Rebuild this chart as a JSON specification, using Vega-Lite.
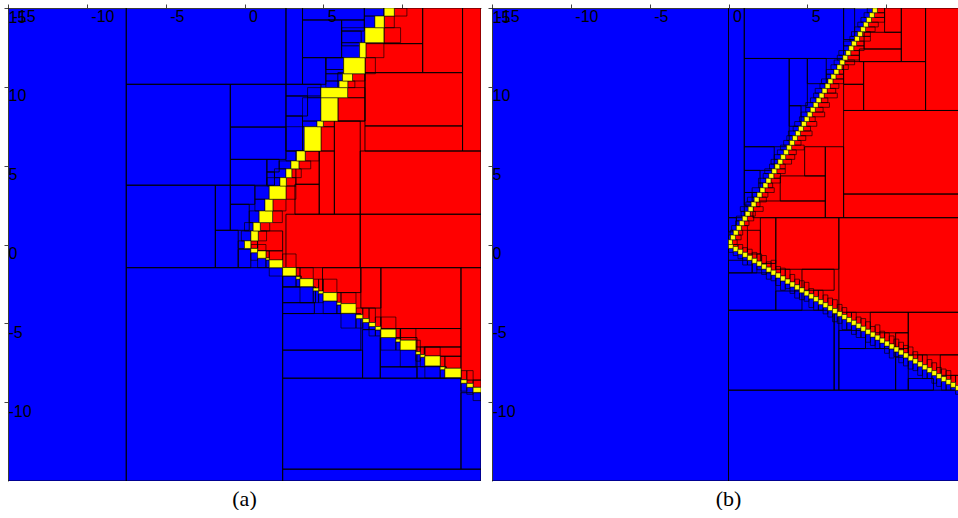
{
"$schema": "https://vega.github.io/schema/vega-lite/v6.json",
"padding": {"left": 3, "top": 3, "right": 0, "bottom": 0},
"spacing": 6,
"config": {
 "view": {"stroke": null, "fill": "#0000ff"},
 "axis": {"labelFont": "Liberation Sans", "labelFontSize": 16, "labelColor": "#000", "tickColor": "#444", "tickSize": 4, "domainColor": "#666", "grid": false, "labelFlush": false, "labelOverlap": false, "zindex": 1, "labelExpr": "'' + datum.value"},
 "title": {"font": "Liberation Serif", "fontSize": 22, "fontWeight": "normal", "color": "#000", "orient": "bottom", "anchor": "middle", "offset": 8, "baseline": "top"}
},
"datasets": {
"au": [
{"y":-0.25,"y2":0.23,"xo":-0.4,"xa":0.0,"xb":0.4,"xi":0.83,"xe":15,"ys":-0.2},
{"y":0.23,"y2":0.86,"xo":-0.2,"xa":0.41,"xb":0.87,"xi":1.4,"xe":15,"ys":-0.2},
{"y":0.86,"y2":1.39,"xo":0.0,"xa":0.55,"xb":1.0,"xi":1.6,"xe":15,"ys":-0.2},
{"y":1.39,"y2":2.13,"xo":0.3,"xa":0.93,"xb":1.78,"xi":2.4,"xe":15,"ys":-0.2},
{"y":2.13,"y2":2.87,"xo":0.66,"xa":1.3,"xb":1.8,"xi":2.63,"xe":15,"ys":-0.2},
{"y":2.87,"y2":3.71,"xo":0.66,"xa":1.57,"xb":2.63,"xi":3.26,"xe":15,"ys":-0.2},
{"y":3.71,"y2":4.24,"xo":1.42,"xa":2.25,"xb":2.65,"xi":3.26,"xe":15,"ys":-0.2},
{"y":4.24,"y2":4.8,"xo":1.9,"xa":2.63,"xb":3.0,"xi":3.6,"xe":15,"ys":-0.2},
{"y":4.8,"y2":5.3,"xo":2.2,"xa":2.95,"xb":3.45,"xi":4.2,"xe":15,"ys":-0.2},
{"y":5.3,"y2":5.93,"xo":2.63,"xa":3.3,"xb":3.85,"xi":4.74,"xe":15,"ys":-0.2},
{"y":5.93,"y2":7.47,"xo":2.63,"xa":3.79,"xb":4.85,"xi":5.7,"xe":15,"ys":-0.2},
{"y":7.47,"y2":7.83,"xo":3.68,"xa":4.6,"xb":5.0,"xi":5.7,"xe":15,"ys":-0.2},
{"y":7.83,"y2":9.31,"xo":3.68,"xa":4.85,"xb":5.92,"xi":7.64,"xe":15,"ys":-0.2},
{"y":9.31,"y2":9.95,"xo":4.0,"xa":4.85,"xb":6.54,"xi":7.64,"xe":15,"ys":-0.2},
{"y":9.95,"y2":10.37,"xo":5.16,"xa":6.0,"xb":6.55,"xi":7.0,"xe":15,"ys":-0.2},
{"y":10.37,"y2":10.83,"xo":5.16,"xa":6.22,"xb":6.85,"xi":7.64,"xe":15,"ys":-0.2},
{"y":10.83,"y2":11.85,"xo":5.16,"xa":6.29,"xb":7.64,"xi":8.3,"xe":15,"ys":-0.2},
{"y":11.85,"y2":12.8,"xo":6.16,"xa":7.3,"xb":7.7,"xi":8.84,"xe":15,"ys":-0.2},
{"y":12.8,"y2":13.75,"xo":6.16,"xa":7.64,"xb":8.84,"xi":9.9,"xe":15,"ys":-0.2},
{"y":13.75,"y2":14.49,"xo":7.6,"xa":8.27,"xb":8.86,"xi":9.5,"xe":15,"ys":-0.2},
{"y":14.49,"y2":15,"xo":7.6,"xa":8.86,"xb":9.5,"xi":10.3,"xe":15,"ys":-0.2}
],
"al": [
{"x":0.4,"x2":0.83,"yo":-1.0,"ya":-0.52,"yb":-0.25,"yi":0.0,"xe":15,"ye":0},
{"x":0.83,"x2":1.36,"yo":-1.47,"ya":-0.87,"yb":-0.41,"yi":0.0,"xe":15,"ye":0},
{"x":1.36,"x2":1.57,"yo":-1.47,"ya":-0.98,"yb":-0.85,"yi":-0.4,"xe":15,"ye":0},
{"x":1.57,"x2":2.42,"yo":-2.0,"ya":-1.47,"yb":-0.98,"yi":-0.4,"xe":15,"ye":0},
{"x":2.42,"x2":3.27,"yo":-2.69,"ya":-1.99,"yb":-1.46,"yi":-0.6,"xe":15,"ye":0},
{"x":3.27,"x2":3.52,"yo":-2.69,"ya":-2.2,"yb":-2.04,"yi":-1.47,"xe":15,"ye":0},
{"x":3.52,"x2":4.36,"yo":-3.69,"ya":-2.67,"yb":-2.17,"yi":-1.47,"xe":15,"ye":0},
{"x":4.36,"x2":4.7,"yo":-3.69,"ya":-2.94,"yb":-2.76,"yi":-2.2,"xe":15,"ye":0},
{"x":4.7,"x2":4.99,"yo":-3.69,"ya":-3.12,"yb":-2.95,"yi":-2.2,"xe":15,"ye":0},
{"x":4.99,"x2":5.86,"yo":-4.38,"ya":-3.58,"yb":-3.05,"yi":-2.2,"xe":15,"ye":0},
{"x":5.86,"x2":6.12,"yo":-4.38,"ya":-3.83,"yb":-3.67,"yi":-3.05,"xe":15,"ye":0},
{"x":6.12,"x2":7.07,"yo":-5.3,"ya":-4.36,"yb":-3.75,"yi":-3.05,"xe":15,"ye":0},
{"x":7.07,"x2":7.5,"yo":-5.3,"ya":-4.7,"yb":-4.45,"yi":-4.03,"xe":15,"ye":0},
{"x":7.5,"x2":7.9,"yo":-5.4,"ya":-4.95,"yb":-4.7,"yi":-4.03,"xe":15,"ye":0},
{"x":7.9,"x2":8.3,"yo":-5.8,"ya":-5.2,"yb":-4.95,"yi":-4.03,"xe":15,"ye":0},
{"x":8.3,"x2":8.65,"yo":-5.8,"ya":-5.42,"yb":-5.2,"yi":-4.6,"xe":15,"ye":0},
{"x":8.65,"x2":9.6,"yo":-6.7,"ya":-5.9,"yb":-5.37,"yi":-4.6,"xe":15,"ye":0},
{"x":9.6,"x2":9.88,"yo":-6.7,"ya":-6.18,"yb":-6.0,"yi":-5.33,"xe":15,"ye":0},
{"x":9.88,"x2":10.87,"yo":-7.76,"ya":-6.69,"yb":-6.07,"yi":-5.33,"xe":15,"ye":0},
{"x":10.87,"x2":11.15,"yo":-7.4,"ya":-6.97,"yb":-6.8,"yi":-6.07,"xe":15,"ye":0},
{"x":11.15,"x2":11.44,"yo":-7.76,"ya":-7.15,"yb":-6.98,"yi":-6.5,"xe":15,"ye":0},
{"x":11.44,"x2":12.41,"yo":-8.48,"ya":-7.7,"yb":-7.07,"yi":-6.5,"xe":15,"ye":0},
{"x":12.41,"x2":12.71,"yo":-8.48,"ya":-7.94,"yb":-7.76,"yi":-7.07,"xe":15,"ye":0},
{"x":12.71,"x2":13.73,"yo":-8.48,"ya":-8.44,"yb":-7.85,"yi":-7.07,"xe":15,"ye":0},
{"x":13.73,"x2":14.1,"yo":-9.3,"ya":-8.8,"yb":-8.58,"yi":-8.0,"xe":15,"ye":0},
{"x":14.1,"x2":14.5,"yo":-9.5,"ya":-9.06,"yb":-8.81,"yi":-8.0,"xe":15,"ye":0},
{"x":14.5,"x2":15,"yo":-9.9,"ya":-9.38,"yb":-9.06,"yi":-8.6,"xe":15,"ye":0}
],
"ab": [
{"x":-15,"x2":-7.5,"y":-15,"y2":15},
{"x":-7.5,"x2":2.42,"y":-15,"y2":-1.47},
{"x":-7.5,"x2":-1.85,"y":-1.47,"y2":3.76},
{"x":-7.5,"x2":2.63,"y":10.16,"y2":15},
{"x":-7.5,"x2":-0.9,"y":3.76,"y2":10.16},
{"x":-0.9,"x2":2.63,"y":7.45,"y2":10.16},
{"x":-0.9,"x2":2.63,"y":5.4,"y2":7.45},
{"x":-0.9,"x2":1.42,"y":3.76,"y2":5.4},
{"x":1.42,"x2":2.2,"y":4.6,"y2":5.4},
{"x":1.42,"x2":1.9,"y":3.76,"y2":4.6},
{"x":-1.85,"x2":-0.9,"y":0.9,"y2":3.76},
{"x":-0.9,"x2":0.66,"y":2.55,"y2":3.76},
{"x":-0.9,"x2":0.3,"y":0.9,"y2":2.55},
{"x":-1.85,"x2":-0.4,"y":-1.47,"y2":0.9},
{"x":-0.4,"x2":0.4,"y":-1.47,"y2":-0.3},
{"x":2.63,"x2":3.68,"y":10.16,"y2":15},
{"x":3.68,"x2":7.6,"y":14.24,"y2":15},
{"x":3.68,"x2":6.16,"y":11.85,"y2":14.24},
{"x":6.16,"x2":7.6,"y":13.54,"y2":14.24},
{"x":6.16,"x2":7.4,"y":12.6,"y2":13.54},
{"x":3.68,"x2":5.16,"y":10.16,"y2":11.85},
{"x":5.16,"x2":6.3,"y":11.1,"y2":11.85},
{"x":2.63,"x2":4.85,"y":9.42,"y2":10.16},
{"x":2.63,"x2":4.0,"y":8.15,"y2":9.42},
{"x":2.63,"x2":3.68,"y":5.93,"y2":8.15},
{"x":2.42,"x2":15,"y":-15,"y2":-14.25},
{"x":2.42,"x2":13.73,"y":-14.25,"y2":-8.48},
{"x":13.73,"x2":15,"y":-14.25,"y2":-9.4},
{"x":2.42,"x2":7.49,"y":-8.48,"y2":-6.7},
{"x":7.49,"x2":8.61,"y":-8.48,"y2":-5.4},
{"x":8.61,"x2":10.94,"y":-7.76,"y2":-5.9},
{"x":8.61,"x2":10.94,"y":-8.48,"y2":-7.76},
{"x":10.94,"x2":12.8,"y":-8.48,"y2":-7.75},
{"x":2.42,"x2":7.38,"y":-6.7,"y2":-4.38},
{"x":2.42,"x2":4.43,"y":-4.38,"y2":-3.69},
{"x":2.42,"x2":4.5,"y":-3.69,"y2":-2.69},
{"x":2.42,"x2":3.6,"y":-2.69,"y2":-2.0},
{"x":13.83,"x2":15,"y":5.93,"y2":15},
{"x":11.3,"x2":13.83,"y":10.9,"y2":15},
{"x":8.84,"x2":11.3,"y":12.74,"y2":15},
{"x":7.64,"x2":11.3,"y":10.9,"y2":12.74},
{"x":7.64,"x2":13.83,"y":7.52,"y2":10.9},
{"x":5.92,"x2":7.64,"y":7.83,"y2":10.9},
{"x":7.64,"x2":13.83,"y":5.93,"y2":7.52},
{"x":7.34,"x2":15,"y":1.92,"y2":5.93},
{"x":2.63,"x2":7.34,"y":-1.47,"y2":1.92},
{"x":7.34,"x2":15,"y":-1.47,"y2":1.92},
{"x":5.7,"x2":7.34,"y":1.92,"y2":7.83},
{"x":4.74,"x2":5.7,"y":1.92,"y2":5.93},
{"x":3.2,"x2":4.74,"y":1.92,"y2":3.82},
{"x":3.26,"x2":4.74,"y":3.82,"y2":5.93},
{"x":0.83,"x2":2.42,"y":-0.4,"y2":0.86},
{"x":13.73,"x2":15,"y":-8.6,"y2":-1.47},
{"x":8.65,"x2":13.73,"y":-5.33,"y2":-1.47},
{"x":7.38,"x2":8.65,"y":-4.03,"y2":-1.47},
{"x":4.95,"x2":7.38,"y":-3.05,"y2":-1.47},
{"x":9.9,"x2":13.73,"y":-6.5,"y2":-5.33},
{"x":11.4,"x2":13.73,"y":-7.1,"y2":-6.5}
],
"bu": [
{"y":0,"y2":0.3,"xo":0,"xa":0,"xb":0.25,"xi":0.55,"xe":15,"ys":-0.2},
{"y":0.3,"y2":0.6,"xo":0,"xa":0.13,"xb":0.44,"xi":0.8,"xe":15,"ys":-0.2},
{"y":0.6,"y2":0.9,"xo":0.1,"xa":0.31,"xb":0.62,"xi":0.9,"xe":15,"ys":-0.2},
{"y":0.9,"y2":1.2,"xo":0.2,"xa":0.5,"xb":0.81,"xi":1.2,"xe":15,"ys":-0.2},
{"y":1.2,"y2":1.5,"xo":0.45,"xa":0.69,"xb":1.0,"xi":1.3,"xe":15,"ys":-0.2},
{"y":1.5,"y2":1.8,"xo":0.5,"xa":0.88,"xb":1.19,"xi":1.6,"xe":15,"ys":-0.2},
{"y":1.8,"y2":2.1,"xo":0.8,"xa":1.06,"xb":1.37,"xi":1.7,"xe":15,"ys":-0.2},
{"y":2.1,"y2":2.4,"xo":0.75,"xa":1.25,"xb":1.56,"xi":2.2,"xe":15,"ys":-0.2},
{"y":2.4,"y2":2.7,"xo":1.1,"xa":1.44,"xb":1.75,"xi":2.0,"xe":15,"ys":-0.2},
{"y":2.7,"y2":3.0,"xo":1.2,"xa":1.63,"xb":1.94,"xi":2.4,"xe":15,"ys":-0.2},
{"y":3.0,"y2":3.3,"xo":1.5,"xa":1.81,"xb":2.12,"xi":2.5,"xe":15,"ys":-0.2},
{"y":3.3,"y2":3.6,"xo":1.5,"xa":2.0,"xb":2.31,"xi":2.9,"xe":15,"ys":-0.2},
{"y":3.6,"y2":3.9,"xo":1.9,"xa":2.19,"xb":2.5,"xi":2.8,"xe":15,"ys":-0.2},
{"y":3.9,"y2":4.2,"xo":1.9,"xa":2.38,"xb":2.69,"xi":3.3,"xe":15,"ys":-0.2},
{"y":4.2,"y2":4.5,"xo":2.2,"xa":2.56,"xb":2.87,"xi":3.3,"xe":15,"ys":-0.2},
{"y":4.5,"y2":4.8,"xo":2.3,"xa":2.75,"xb":3.06,"xi":3.6,"xe":15,"ys":-0.2},
{"y":4.8,"y2":5.1,"xo":2.6,"xa":2.94,"xb":3.25,"xi":3.6,"xe":15,"ys":-0.2},
{"y":5.1,"y2":5.4,"xo":2.7,"xa":3.13,"xb":3.44,"xi":4.0,"xe":15,"ys":-0.2},
{"y":5.4,"y2":5.7,"xo":2.9,"xa":3.31,"xb":3.62,"xi":4.2,"xe":15,"ys":-0.2},
{"y":5.7,"y2":6.0,"xo":3.1,"xa":3.5,"xb":3.81,"xi":4.3,"xe":15,"ys":-0.2},
{"y":6.0,"y2":6.3,"xo":3.3,"xa":3.69,"xb":4.0,"xi":4.8,"xe":15,"ys":-0.2},
{"y":6.3,"y2":6.6,"xo":3.5,"xa":3.88,"xb":4.19,"xi":4.6,"xe":15,"ys":-0.2},
{"y":6.6,"y2":6.9,"xo":3.7,"xa":4.06,"xb":4.37,"xi":4.9,"xe":15,"ys":-0.2},
{"y":6.9,"y2":7.2,"xo":3.8,"xa":4.25,"xb":4.56,"xi":5.3,"xe":15,"ys":-0.2},
{"y":7.2,"y2":7.5,"xo":4.1,"xa":4.44,"xb":4.75,"xi":5.2,"xe":15,"ys":-0.2},
{"y":7.5,"y2":7.8,"xo":4.2,"xa":4.63,"xb":4.94,"xi":5.6,"xe":15,"ys":-0.2},
{"y":7.8,"y2":8.1,"xo":4.5,"xa":4.81,"xb":5.12,"xi":5.5,"xe":15,"ys":-0.2},
{"y":8.1,"y2":8.4,"xo":4.6,"xa":5.0,"xb":5.31,"xi":6.1,"xe":15,"ys":-0.2},
{"y":8.4,"y2":8.7,"xo":4.9,"xa":5.19,"xb":5.5,"xi":6.0,"xe":15,"ys":-0.2},
{"y":8.7,"y2":9.0,"xo":4.9,"xa":5.38,"xb":5.69,"xi":6.4,"xe":15,"ys":-0.2},
{"y":9.0,"y2":9.3,"xo":5.2,"xa":5.56,"xb":5.87,"xi":6.3,"xe":15,"ys":-0.2},
{"y":9.3,"y2":9.6,"xo":5.4,"xa":5.75,"xb":6.06,"xi":6.9,"xe":15,"ys":-0.2},
{"y":9.6,"y2":9.9,"xo":5.5,"xa":5.94,"xb":6.25,"xi":6.8,"xe":15,"ys":-0.2},
{"y":9.9,"y2":10.2,"xo":5.8,"xa":6.13,"xb":6.44,"xi":7.0,"xe":15,"ys":-0.2},
{"y":10.2,"y2":10.5,"xo":5.9,"xa":6.31,"xb":6.62,"xi":7.3,"xe":15,"ys":-0.2},
{"y":10.5,"y2":10.8,"xo":6.2,"xa":6.5,"xb":6.81,"xi":7.3,"xe":15,"ys":-0.2},
{"y":10.8,"y2":11.1,"xo":6.2,"xa":6.69,"xb":7.0,"xi":7.3,"xe":15,"ys":-0.2},
{"y":11.1,"y2":11.4,"xo":6.5,"xa":6.88,"xb":7.19,"xi":7.6,"xe":15,"ys":-0.2},
{"y":11.4,"y2":11.7,"xo":6.7,"xa":7.06,"xb":7.37,"xi":8.0,"xe":15,"ys":-0.2},
{"y":11.7,"y2":12.0,"xo":6.9,"xa":7.25,"xb":7.56,"xi":8.3,"xe":15,"ys":-0.2},
{"y":12.0,"y2":12.3,"xo":7.0,"xa":7.44,"xb":7.75,"xi":8.3,"xe":15,"ys":-0.2},
{"y":12.3,"y2":12.6,"xo":7.3,"xa":7.63,"xb":7.94,"xi":8.6,"xe":15,"ys":-0.2},
{"y":12.6,"y2":12.9,"xo":7.3,"xa":7.81,"xb":8.12,"xi":8.6,"xe":15,"ys":-0.2},
{"y":12.9,"y2":13.2,"xo":7.7,"xa":8.0,"xb":8.31,"xi":9.0,"xe":15,"ys":-0.2},
{"y":13.2,"y2":13.5,"xo":7.8,"xa":8.19,"xb":8.5,"xi":9.0,"xe":15,"ys":-0.2},
{"y":13.5,"y2":13.8,"xo":8.0,"xa":8.38,"xb":8.69,"xi":9.3,"xe":15,"ys":-0.2},
{"y":13.8,"y2":14.1,"xo":8.2,"xa":8.56,"xb":8.87,"xi":9.5,"xe":15,"ys":-0.2},
{"y":14.1,"y2":14.4,"xo":8.4,"xa":8.75,"xb":9.06,"xi":9.9,"xe":15,"ys":-0.2},
{"y":14.4,"y2":14.7,"xo":8.6,"xa":8.94,"xb":9.25,"xi":9.9,"xe":15,"ys":-0.2},
{"y":14.7,"y2":15.0,"xo":8.8,"xa":9.13,"xb":9.44,"xi":9.9,"xe":15,"ys":-0.2}
],
"bl": [
{"x":0,"x2":0.3,"yo":-0.5,"ya":-0.25,"yb":0,"yi":0,"xe":15,"ye":0},
{"x":0.3,"x2":0.6,"yo":-0.7,"ya":-0.44,"yb":-0.13,"yi":0,"xe":15,"ye":0},
{"x":0.6,"x2":0.9,"yo":-0.9,"ya":-0.62,"yb":-0.31,"yi":0,"xe":15,"ye":0},
{"x":0.9,"x2":1.2,"yo":-1.3,"ya":-0.81,"yb":-0.5,"yi":-0.2,"xe":15,"ye":0},
{"x":1.2,"x2":1.5,"yo":-1.3,"ya":-1.0,"yb":-0.69,"yi":-0.3,"xe":15,"ye":0},
{"x":1.5,"x2":1.8,"yo":-1.8,"ya":-1.19,"yb":-0.88,"yi":-0.5,"xe":15,"ye":0},
{"x":1.8,"x2":2.1,"yo":-1.6,"ya":-1.37,"yb":-1.06,"yi":-0.6,"xe":15,"ye":0},
{"x":2.1,"x2":2.4,"yo":-1.9,"ya":-1.56,"yb":-1.25,"yi":-0.7,"xe":15,"ye":0},
{"x":2.4,"x2":2.7,"yo":-2.2,"ya":-1.75,"yb":-1.44,"yi":-1.1,"xe":15,"ye":0},
{"x":2.7,"x2":3.0,"yo":-2.3,"ya":-1.94,"yb":-1.63,"yi":-1.0,"xe":15,"ye":0},
{"x":3.0,"x2":3.3,"yo":-2.6,"ya":-2.12,"yb":-1.81,"yi":-1.4,"xe":15,"ye":0},
{"x":3.3,"x2":3.6,"yo":-2.9,"ya":-2.31,"yb":-2.0,"yi":-1.5,"xe":15,"ye":0},
{"x":3.6,"x2":3.9,"yo":-2.8,"ya":-2.5,"yb":-2.19,"yi":-1.57,"xe":15,"ye":0},
{"x":3.9,"x2":4.2,"yo":-3.1,"ya":-2.69,"yb":-2.38,"yi":-1.9,"xe":15,"ye":0},
{"x":4.2,"x2":4.5,"yo":-3.4,"ya":-2.87,"yb":-2.56,"yi":-2.2,"xe":15,"ye":0},
{"x":4.5,"x2":4.8,"yo":-3.5,"ya":-3.06,"yb":-2.75,"yi":-2.3,"xe":15,"ye":0},
{"x":4.8,"x2":5.1,"yo":-3.6,"ya":-3.25,"yb":-2.94,"yi":-2.4,"xe":15,"ye":0},
{"x":5.1,"x2":5.4,"yo":-4.0,"ya":-3.44,"yb":-3.13,"yi":-2.8,"xe":15,"ye":0},
{"x":5.4,"x2":5.7,"yo":-4.17,"ya":-3.62,"yb":-3.31,"yi":-2.9,"xe":15,"ye":0},
{"x":5.7,"x2":6.0,"yo":-4.17,"ya":-3.81,"yb":-3.5,"yi":-2.9,"xe":15,"ye":0},
{"x":6.0,"x2":6.3,"yo":-4.4,"ya":-4.0,"yb":-3.69,"yi":-3.2,"xe":15,"ye":0},
{"x":6.3,"x2":6.6,"yo":-4.6,"ya":-4.19,"yb":-3.88,"yi":-3.4,"xe":15,"ye":0},
{"x":6.6,"x2":6.9,"yo":-4.9,"ya":-4.37,"yb":-4.06,"yi":-3.5,"xe":15,"ye":0},
{"x":6.9,"x2":7.2,"yo":-5.0,"ya":-4.56,"yb":-4.25,"yi":-3.8,"xe":15,"ye":0},
{"x":7.2,"x2":7.5,"yo":-5.4,"ya":-4.75,"yb":-4.44,"yi":-4.0,"xe":15,"ye":0},
{"x":7.5,"x2":7.8,"yo":-5.4,"ya":-4.94,"yb":-4.63,"yi":-4.3,"xe":15,"ye":0},
{"x":7.8,"x2":8.1,"yo":-5.7,"ya":-5.12,"yb":-4.81,"yi":-4.3,"xe":15,"ye":0},
{"x":8.1,"x2":8.4,"yo":-5.9,"ya":-5.31,"yb":-5.0,"yi":-4.6,"xe":15,"ye":0},
{"x":8.4,"x2":8.7,"yo":-5.9,"ya":-5.5,"yb":-5.19,"yi":-4.7,"xe":15,"ye":0},
{"x":8.7,"x2":9.0,"yo":-6.2,"ya":-5.69,"yb":-5.38,"yi":-4.9,"xe":15,"ye":0},
{"x":9.0,"x2":9.3,"yo":-6.4,"ya":-5.87,"yb":-5.56,"yi":-5.2,"xe":15,"ye":0},
{"x":9.3,"x2":9.6,"yo":-6.6,"ya":-6.06,"yb":-5.75,"yi":-5.1,"xe":15,"ye":0},
{"x":9.6,"x2":9.9,"yo":-6.6,"ya":-6.25,"yb":-5.94,"yi":-5.5,"xe":15,"ye":0},
{"x":9.9,"x2":10.2,"yo":-6.9,"ya":-6.44,"yb":-6.13,"yi":-5.6,"xe":15,"ye":0},
{"x":10.2,"x2":10.5,"yo":-7.2,"ya":-6.62,"yb":-6.31,"yi":-5.8,"xe":15,"ye":0},
{"x":10.5,"x2":10.8,"yo":-7.1,"ya":-6.81,"yb":-6.5,"yi":-6.0,"xe":15,"ye":0},
{"x":10.8,"x2":11.1,"yo":-7.5,"ya":-7.0,"yb":-6.69,"yi":-6.2,"xe":15,"ye":0},
{"x":11.1,"x2":11.4,"yo":-7.7,"ya":-7.19,"yb":-6.88,"yi":-6.4,"xe":15,"ye":0},
{"x":11.4,"x2":11.7,"yo":-7.9,"ya":-7.37,"yb":-7.06,"yi":-6.5,"xe":15,"ye":0},
{"x":11.7,"x2":12.0,"yo":-8.0,"ya":-7.56,"yb":-7.25,"yi":-6.8,"xe":15,"ye":0},
{"x":12.0,"x2":12.3,"yo":-8.3,"ya":-7.75,"yb":-7.44,"yi":-7.0,"xe":15,"ye":0},
{"x":12.3,"x2":12.6,"yo":-8.5,"ya":-7.94,"yb":-7.63,"yi":-7.0,"xe":15,"ye":0},
{"x":12.6,"x2":12.9,"yo":-8.5,"ya":-8.12,"yb":-7.81,"yi":-7.3,"xe":15,"ye":0},
{"x":12.9,"x2":13.2,"yo":-8.8,"ya":-8.31,"yb":-8.0,"yi":-7.5,"xe":15,"ye":0},
{"x":13.2,"x2":13.5,"yo":-9.0,"ya":-8.5,"yb":-8.19,"yi":-7.8,"xe":15,"ye":0},
{"x":13.5,"x2":13.8,"yo":-9.24,"ya":-8.69,"yb":-8.38,"yi":-7.9,"xe":15,"ye":0},
{"x":13.8,"x2":14.1,"yo":-9.24,"ya":-8.87,"yb":-8.56,"yi":-8.0,"xe":15,"ye":0},
{"x":14.1,"x2":14.4,"yo":-9.24,"ya":-9.06,"yb":-8.75,"yi":-8.3,"xe":15,"ye":0},
{"x":14.4,"x2":14.7,"yo":-9.5,"ya":-9.25,"yb":-8.94,"yi":-8.3,"xe":15,"ye":0},
{"x":14.7,"x2":15.0,"yo":-9.7,"ya":-9.44,"yb":-9.13,"yi":-8.6,"xe":15,"ye":0}
],
"bb": [
{"x":-15,"x2":0,"y":-15,"y2":15},
{"x":0,"x2":15,"y":-15,"y2":-9.24},
{"x":0,"x2":1,"y":1.7,"y2":15},
{"x":1,"x2":7.3,"y":11.8,"y2":15},
{"x":1,"x2":3.85,"y":6.2,"y2":11.8},
{"x":3.85,"x2":5.0,"y":8.8,"y2":11.8},
{"x":5.0,"x2":6.2,"y":10.2,"y2":11.8},
{"x":3.85,"x2":4.6,"y":7.5,"y2":8.8},
{"x":1,"x2":2.9,"y":4.7,"y2":6.2},
{"x":1,"x2":2.0,"y":3.3,"y2":4.7},
{"x":1,"x2":1.5,"y":2.5,"y2":3.3},
{"x":0,"x2":0.5,"y":0.8,"y2":1.7},
{"x":7.3,"x2":8.0,"y":13.0,"y2":15},
{"x":0,"x2":6.7,"y":-9.24,"y2":-4.17},
{"x":0,"x2":3.0,"y":-4.17,"y2":-1.8},
{"x":3.0,"x2":4.66,"y":-4.17,"y2":-2.95},
{"x":7.0,"x2":10.6,"y":-9.24,"y2":-6.6},
{"x":7.0,"x2":8.69,"y":-6.6,"y2":-5.45},
{"x":10.6,"x2":11.4,"y":-9.24,"y2":-7.15},
{"x":11.4,"x2":13.0,"y":-9.24,"y2":-8.5},
{"x":0,"x2":1.5,"y":-1.8,"y2":-1.0},
{"x":6.7,"x2":7.0,"y":-9.24,"y2":-4.4},
{"x":12.5,"x2":15,"y":8.5,"y2":15},
{"x":10.96,"x2":12.5,"y":11.6,"y2":15},
{"x":9.9,"x2":10.96,"y":13.46,"y2":15},
{"x":8.6,"x2":10.96,"y":12.4,"y2":13.46},
{"x":8.3,"x2":10.96,"y":11.6,"y2":12.4},
{"x":8.57,"x2":12.5,"y":8.5,"y2":11.6},
{"x":7.3,"x2":8.57,"y":10.16,"y2":11.6},
{"x":7.3,"x2":8.57,"y":8.5,"y2":10.16},
{"x":7.3,"x2":15,"y":3.2,"y2":8.5},
{"x":7.3,"x2":15,"y":1.7,"y2":3.2},
{"x":6.14,"x2":7.3,"y":1.7,"y2":6.2},
{"x":4.83,"x2":6.14,"y":4.35,"y2":6.2},
{"x":3.28,"x2":6.14,"y":2.76,"y2":4.35},
{"x":1.55,"x2":6.14,"y":1.7,"y2":2.76},
{"x":7.0,"x2":15,"y":-4.3,"y2":1.7},
{"x":3.0,"x2":7.0,"y":-1.57,"y2":1.7},
{"x":2.02,"x2":3.0,"y":-1.2,"y2":1.7},
{"x":1.2,"x2":2.02,"y":-0.6,"y2":0.9},
{"x":4.66,"x2":6.7,"y":-2.9,"y2":-1.57},
{"x":11.4,"x2":15,"y":-7.0,"y2":-4.3},
{"x":8.99,"x2":11.4,"y":-5.6,"y2":-4.3},
{"x":13.43,"x2":15,"y":-8.3,"y2":-7.0},
{"x":10.6,"x2":11.4,"y":-6.6,"y2":-5.6}
]
},
"hconcat": [
{
"width": 473, "height": 473,
"title": {"text": "(a)"},
"layer": [
{"data": {"name": "al"}, "mark": {"type": "rect", "color": "#ff0000", "clip": true},
 "encoding": {
  "x": {"field": "x", "type": "quantitative", "scale": {"domain": [-15, 15], "nice": false, "zero": false}, "axis": {"orient": "top", "values": [-15, -10, -5, 0, 5, 10], "labelAlign": "left", "labelBaseline": "top", "labelPadding": -4, "labelOffset": 4, "title": null}},
  "x2": {"field": "xe"},
  "y": {"field": "yb", "type": "quantitative", "scale": {"domain": [-15, 15], "nice": false, "zero": false}, "axis": {"orient": "left", "values": [-10, -5, 0, 5, 10, 15], "labelAlign": "left", "labelBaseline": "top", "labelPadding": -4, "labelOffset": 1, "title": null}},
  "y2": {"field": "ye"}}},
{"data": {"name": "au"}, "mark": {"type": "rect", "color": "#ff0000", "clip": true},
 "encoding": {"x": {"field": "xb", "type": "quantitative"}, "x2": {"field": "xe"}, "y": {"field": "ys", "type": "quantitative"}, "y2": {"field": "y2"}}},
{"data": {"name": "ab"}, "mark": {"type": "rect", "filled": false, "stroke": "#000", "strokeWidth": 1, "strokeOpacity": 0.85, "clip": true},
 "encoding": {"x": {"field": "x", "type": "quantitative"}, "x2": {"field": "x2"}, "y": {"field": "y", "type": "quantitative"}, "y2": {"field": "y2"}}},
{"data": {"name": "au"}, "mark": {"type": "rect", "filled": false, "stroke": "#000", "strokeWidth": 0.8, "strokeOpacity": 0.8, "clip": true},
 "encoding": {"x": {"field": "xo", "type": "quantitative"}, "x2": {"field": "xa"}, "y": {"field": "y", "type": "quantitative"}, "y2": {"field": "y2"}}},
{"data": {"name": "au"}, "mark": {"type": "rect", "filled": false, "stroke": "#000", "strokeWidth": 0.8, "strokeOpacity": 0.8, "clip": true},
 "encoding": {"x": {"field": "xb", "type": "quantitative"}, "x2": {"field": "xi"}, "y": {"field": "y", "type": "quantitative"}, "y2": {"field": "y2"}}},
{"data": {"name": "al"}, "mark": {"type": "rect", "filled": false, "stroke": "#000", "strokeWidth": 0.8, "strokeOpacity": 0.8, "clip": true},
 "encoding": {"x": {"field": "x", "type": "quantitative"}, "x2": {"field": "x2"}, "y": {"field": "yo", "type": "quantitative"}, "y2": {"field": "ya"}}},
{"data": {"name": "al"}, "mark": {"type": "rect", "filled": false, "stroke": "#000", "strokeWidth": 0.8, "strokeOpacity": 0.8, "clip": true},
 "encoding": {"x": {"field": "x", "type": "quantitative"}, "x2": {"field": "x2"}, "y": {"field": "yb", "type": "quantitative"}, "y2": {"field": "yi"}}},
{"data": {"name": "au"}, "mark": {"type": "rect", "fill": "#ffff00", "stroke": "#000", "strokeWidth": 0.7, "strokeOpacity": 0.7, "clip": true},
 "encoding": {"x": {"field": "xa", "type": "quantitative"}, "x2": {"field": "xb"}, "y": {"field": "y", "type": "quantitative"}, "y2": {"field": "y2"}}},
{"data": {"name": "al"}, "mark": {"type": "rect", "fill": "#ffff00", "stroke": "#000", "strokeWidth": 0.7, "strokeOpacity": 0.7, "clip": true},
 "encoding": {"x": {"field": "x", "type": "quantitative"}, "x2": {"field": "x2"}, "y": {"field": "ya", "type": "quantitative"}, "y2": {"field": "yb"}}}
]
},
{
"width": 473, "height": 473,
"title": {"text": "(b)"},
"layer": [
{"data": {"name": "bl"}, "mark": {"type": "rect", "color": "#ff0000", "clip": true},
 "encoding": {
  "x": {"field": "x", "type": "quantitative", "scale": {"domain": [-15, 15], "nice": false, "zero": false}, "axis": {"orient": "top", "values": [-15, -10, -5, 0, 5, 10], "labelAlign": "left", "labelBaseline": "top", "labelPadding": -4, "labelOffset": 4, "title": null}},
  "x2": {"field": "xe"},
  "y": {"field": "yb", "type": "quantitative", "scale": {"domain": [-15, 15], "nice": false, "zero": false}, "axis": {"orient": "left", "values": [-10, -5, 0, 5, 10, 15], "labelAlign": "left", "labelBaseline": "top", "labelPadding": -4, "labelOffset": 1, "title": null}},
  "y2": {"field": "ye"}}},
{"data": {"name": "bu"}, "mark": {"type": "rect", "color": "#ff0000", "clip": true},
 "encoding": {"x": {"field": "xb", "type": "quantitative"}, "x2": {"field": "xe"}, "y": {"field": "ys", "type": "quantitative"}, "y2": {"field": "y2"}}},
{"data": {"name": "bb"}, "mark": {"type": "rect", "filled": false, "stroke": "#000", "strokeWidth": 1, "strokeOpacity": 0.85, "clip": true},
 "encoding": {"x": {"field": "x", "type": "quantitative"}, "x2": {"field": "x2"}, "y": {"field": "y", "type": "quantitative"}, "y2": {"field": "y2"}}},
{"data": {"name": "bu"}, "mark": {"type": "rect", "filled": false, "stroke": "#000", "strokeWidth": 0.8, "strokeOpacity": 0.8, "clip": true},
 "encoding": {"x": {"field": "xo", "type": "quantitative"}, "x2": {"field": "xa"}, "y": {"field": "y", "type": "quantitative"}, "y2": {"field": "y2"}}},
{"data": {"name": "bu"}, "mark": {"type": "rect", "filled": false, "stroke": "#000", "strokeWidth": 0.8, "strokeOpacity": 0.8, "clip": true},
 "encoding": {"x": {"field": "xb", "type": "quantitative"}, "x2": {"field": "xi"}, "y": {"field": "y", "type": "quantitative"}, "y2": {"field": "y2"}}},
{"data": {"name": "bl"}, "mark": {"type": "rect", "filled": false, "stroke": "#000", "strokeWidth": 0.8, "strokeOpacity": 0.8, "clip": true},
 "encoding": {"x": {"field": "x", "type": "quantitative"}, "x2": {"field": "x2"}, "y": {"field": "yo", "type": "quantitative"}, "y2": {"field": "ya"}}},
{"data": {"name": "bl"}, "mark": {"type": "rect", "filled": false, "stroke": "#000", "strokeWidth": 0.8, "strokeOpacity": 0.8, "clip": true},
 "encoding": {"x": {"field": "x", "type": "quantitative"}, "x2": {"field": "x2"}, "y": {"field": "yb", "type": "quantitative"}, "y2": {"field": "yi"}}},
{"data": {"name": "bu"}, "mark": {"type": "rect", "fill": "#ffff00", "stroke": "#000", "strokeWidth": 0.6, "strokeOpacity": 0.7, "clip": true},
 "encoding": {"x": {"field": "xa", "type": "quantitative"}, "x2": {"field": "xb"}, "y": {"field": "y", "type": "quantitative"}, "y2": {"field": "y2"}}},
{"data": {"name": "bl"}, "mark": {"type": "rect", "fill": "#ffff00", "stroke": "#000", "strokeWidth": 0.6, "strokeOpacity": 0.7, "clip": true},
 "encoding": {"x": {"field": "x", "type": "quantitative"}, "x2": {"field": "x2"}, "y": {"field": "ya", "type": "quantitative"}, "y2": {"field": "yb"}}}
]
}
]
}
